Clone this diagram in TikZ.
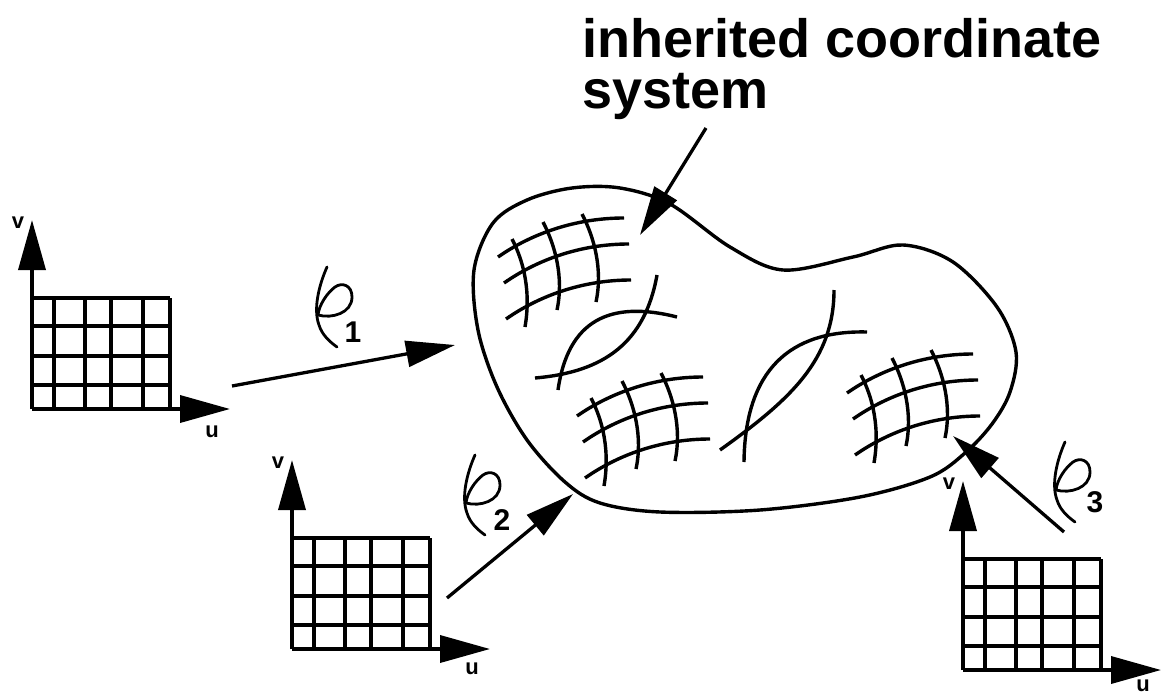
\documentclass[tikz,border=0pt]{standalone}
\usepackage{fontspec}
\setmainfont{Liberation Sans}
\usetikzlibrary{arrows.meta}
\begin{document}
\begin{tikzpicture}[x=1pt,y=-1pt,
  gridline/.style={line width=3.6pt},
  axis/.style={line width=3.6pt,-{Triangle[length=50pt,width=27pt]}},
  arr/.style={line width=3.3pt,-{Triangle[length=49pt,width=26pt]}},
  curv/.style={line width=3.4pt},
  outline/.style={line width=3.4pt},
  phistroke/.style={line width=2.8pt,line cap=round},
  lbl/.style={inner sep=0pt,font=\bfseries\fontsize{22}{22}\selectfont},
  sub/.style={inner sep=0pt,font=\bfseries\fontsize{30}{30}\selectfont},
  phiglyph/.pic={
    \draw[phistroke] (0,0) .. controls (-8,18) and (-14,42) .. (-8,58) .. controls (-5,68) and (3,75) .. (10,80);
    \draw[phistroke] (-9,48) .. controls (5,52) and (25,46) .. (25,30) .. controls (25,18) and (15,15) .. (8,20) .. controls (0,26) and (-8,38) .. (-9,48);
  },
  patch/.pic={
    \draw[curv] (0,0) .. controls (33,-23) and (77,-39) .. (126,-39);
    \draw[curv] (6,26) .. controls (39,3) and (82,-13) .. (131,-13);
    \draw[curv] (8,62) .. controls (41,39) and (84,23) .. (133,23);
    \draw[curv] (14,-18) .. controls (26,5) and (33,35) .. (27,70);
    \draw[curv] (45,-35) .. controls (57,-12) and (66,20) .. (59,53);
    \draw[curv] (84,-43) .. controls (96,-20) and (105,12) .. (98,45);
  }
]
\useasboundingbox (0,0) rectangle (1169,696);

% title
\node[inner sep=0pt,anchor=north west,align=left,font=\bfseries\fontsize{54}{51}\selectfont] (title) at (582,18) {inherited coordinate\\system};

% parameter grids
\foreach \n/\ox/\oy/\uy in {a/32/409/23, b/292/649/20, c/963/670/16} {
  \begin{scope}[shift={(\ox,\oy)}]
    \foreach \dx in {0,22,53,79,111,138} \draw[gridline] (\dx,-111) -- (\dx,0);
    \foreach \dy in {-111,-83,-53,-24} \draw[gridline] (0,\dy) -- (138,\dy);
    \coordinate (\n-o) at (0,0);
    \coordinate (\n-v) at (0,-189);
    \coordinate (\n-u) at (198,0);
    \draw[axis] (\n-o) -- (\n-v);
    \draw[axis] (\n-o) -- (\n-u);
    \node[lbl] (\n-vl) at (-14,-186) {v};
    \node[lbl] (\n-ul) at (180,\uy) {u};
  \end{scope}
}

% blob outline
\draw[outline] plot[smooth cycle,tension=0.55] coordinates {
  (474,270) (493,223) (527,200) (572,188) (620,188) (670,204) (730,247)
  (783,270) (853,257) (903,245) (953,262) (997,307) (1016,352) (1010,392)
  (992,424) (965,453) (930,477) (860,497) (760,510) (660,512) (600,503)
  (565,482) (527,440) (497,387) (478,330)};

% curvilinear patches
\pic at (498,257) {patch};
\pic at (577,416) {patch};
\pic at (847,393) {patch};

% crossing curve pairs
\draw[curv] (677,317) .. controls (610,300) and (568,320) .. (558,390);
\draw[curv] (535,378) .. controls (605,372) and (645,342) .. (657,275);
\draw[curv] (834,290) .. controls (834,360) and (790,400) .. (720,450);
\draw[curv] (867,332) .. controls (790,330) and (745,370) .. (744,462);

% mapping arrows
\coordinate (p1s) at (232,386); \coordinate (p1e) at (455,345);
\coordinate (p2s) at (447,598); \coordinate (p2e) at (573,494);
\coordinate (p3s) at (1064,532); \coordinate (p3e) at (953,436);
\coordinate (ts) at (706,128); \coordinate (te) at (640,235);
\draw[arr] (p1s) -- (p1e);
\draw[arr] (p2s) -- (p2e);
\draw[arr] (p3s) -- (p3e);
\draw[arr] (ts) -- (te);

% phi labels
\pic at (327,267) {phiglyph};
\pic at (475,455) {phiglyph};
\pic at (1065,442) {phiglyph};
\node[sub] (s1) at (353,332) {1};
\node[sub] (s2) at (502,520) {2};
\node[sub] (s3) at (1095,502) {3};
\end{tikzpicture}
\end{document}
